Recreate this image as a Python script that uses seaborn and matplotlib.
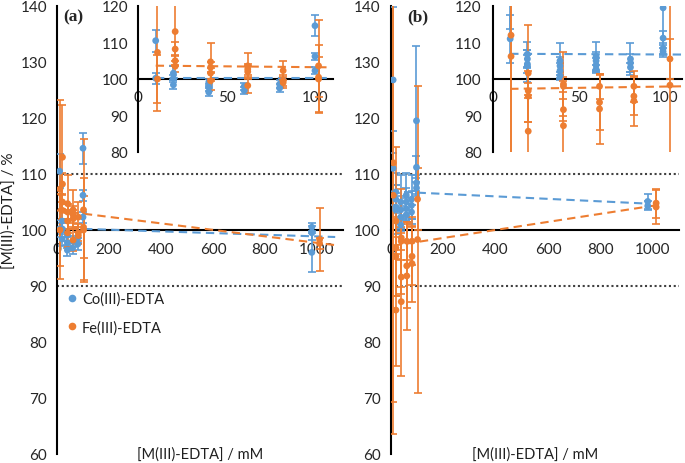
import numpy as np
import pandas as pd
import matplotlib
matplotlib.use("Agg")
import matplotlib.pyplot as plt
from matplotlib.lines import Line2D
import seaborn as sns

sns.set_theme(style="white")
plt.rcParams['font.family'] = ['Lato', 'DejaVu Sans']

BLUE = "#5B9BD5"
ORANGE = "#ED7D31"
series_names = ["Co(III)-EDTA", "Fe(III)-EDTA"]
colors = [BLUE, ORANGE]

# ---------------- Panel (a) data ----------------
a_co_x = [10, 10, 20, 20, 20, 40, 40, 40, 60, 60, 80, 80, 100, 100, 100, 980, 980, 980]
a_co_y = [110.5, 100.2, 101.6, 100.2, 98.4, 99.1, 97.7, 96.4, 98.0, 96.8, 98.6, 97.5,
          114.6, 106.2, 102.3, 100.5, 99.5, 96.0]
a_co_err = [3.0, 1.5, 2.0, 1.0, 1.2, 1.0, 1.0, 1.0, 1.0, 1.0, 1.0, 1.0,
            2.8, 1.0, 1.0, 0.7, 1.2, 3.5]

a_fe_x = [11, 11, 21, 21, 21, 21, 41, 41, 41, 41, 62, 62, 62, 62, 82, 82, 82,
          102, 102, 102, 1010, 1010]
a_fe_y = [107.3, 100.0, 113.0, 108.2, 105.0, 103.5, 104.7, 103.2, 101.6, 99.5,
          103.6, 102.7, 102.0, 98.2, 102.3, 99.5, 99.0, 103.6, 100.5, 100.0, 98.3, 97.6]
a_fe_err = [16.0, 6.5, 9.3, 2.0, 1.5, 1.5, 5.2, 1.5, 1.5, 2.5, 3.5, 1.5, 1.5, 2.0,
            2.7, 1.5, 1.5, 12.6, 5.5, 9.3, 5.7, 1.0]

# trend lines (a)
a_co_trend_x = [0, 1070]
a_co_trend_y = [100.35, 98.75]
a_fe_trend_x = [0, 1070]
a_fe_trend_y = [103.5, 97.3]
a_co_inset_trend_x = [10, 108]
a_co_inset_trend_y = [100.2, 100.2]
a_fe_inset_trend_x = [10, 108]
a_fe_inset_trend_y = [103.65, 103.2]

# ---------------- Panel (b) data ----------------
b_co_x = [10, 10, 20, 20, 20, 20, 39, 39, 39, 39, 60, 60, 60, 60, 80, 80, 80,
          99, 99, 99, 99, 980, 980]
b_co_y = [126.8, 111.0, 106.8, 105.5, 104.1, 103.6, 105.0, 103.6, 102.3, 100.9,
          106.2, 105.0, 103.8, 102.7, 105.5, 104.4, 103.2, 119.5, 111.2, 108.4, 107.5,
          105.1, 104.3]
b_co_err = [13.0, 6.6, 3.4, 2.5, 2.5, 4.4, 4.9, 2.5, 2.0, 1.1, 4.0, 2.5, 2.0, 1.1,
            4.4, 2.5, 1.2, 13.4, 2.0, 1.5, 1.0, 1.3, 0.8]

b_fe_x = [10.5, 10.5, 20.5, 20.5, 20.5, 20.5, 41, 41, 41, 41, 62, 62, 62, 82, 82, 82,
          103, 103, 1012, 1012]
b_fe_y = [112.0, 106.2, 101.6, 96.8, 95.3, 85.7, 98.6, 98.0, 91.6, 87.2, 98.0, 93.6,
          91.8, 98.0, 95.3, 94.0, 105.5, 98.3, 104.8, 104.1]
b_fe_err = [42.7, 42.7, 13.3, 2.0, 7.0, 10.0, 8.7, 1.5, 3.0, 13.3, 3.4, 7.5, 9.6,
            4.3, 5.2, 6.8, 5.5, 27.4, 2.6, 3.0]

b_co_trend_x = [0, 985]
b_co_trend_y = [106.9, 104.7]
b_fe_trend_x = [10, 1010]
b_fe_trend_y = [97.2, 104.4]
b_co_inset_trend_x = [10, 110]
b_co_inset_trend_y = [106.9, 106.7]
b_fe_inset_trend_x = [10, 110]
b_fe_inset_trend_y = [97.3, 98.0]

main_xticks = [0, 200, 400, 600, 800, 1000]
main_yticks = [60, 70, 80, 90, 100, 110, 120, 130, 140]
inset_xticks = [0, 50, 100]
inset_yticks = [80, 90, 100, 110, 120]


def make_df(cx, cy, ce, fx, fy, fe):
    d1 = pd.DataFrame({"x": cx, "y": cy, "err": ce, "series": series_names[0]})
    d2 = pd.DataFrame({"x": fx, "y": fy, "err": fe, "series": series_names[1]})
    return pd.concat([d1, d2], ignore_index=True)


df_a = make_df(a_co_x, a_co_y, a_co_err, a_fe_x, a_fe_y, a_fe_err)
df_b = make_df(b_co_x, b_co_y, b_co_err, b_fe_x, b_fe_y, b_fe_err)

FS = 10
TXT = "#1f1f1f"


def style_axes(ax, xlim, ylim, xticks, yticks, xpad, ypad):
    ax.set_xlim(*xlim)
    ax.set_ylim(*ylim)
    ax.set_xticks(xticks)
    ax.set_yticks(yticks)
    ax.set_xticklabels([str(t) for t in xticks], fontsize=FS, color=TXT)
    ax.set_yticklabels([str(t) for t in yticks], fontsize=FS, color=TXT)
    ax.tick_params(axis="x", length=0, pad=xpad)
    ax.tick_params(axis="y", length=0, pad=ypad)
    for s in ["top", "right"]:
        ax.spines[s].set_visible(False)
    ax.spines["bottom"].set_position(("data", 100))
    ax.spines["left"].set_position(("data", 0))
    for s in ["bottom", "left"]:
        ax.spines[s].set_color("black")
        ax.spines[s].set_linewidth(1.5)
        ax.spines[s].set_zorder(2)
    ax.set_xlabel("")
    ax.set_ylabel("")
    ax.grid(False)
    ax.set_facecolor("none")


def draw_data(ax, df, trends):
    for (tx, ty), color in zip(trends, colors):
        ax.plot(tx, ty, color=color, lw=1.5, ls=(0, (4, 2.5)), zorder=2.5)
    for name, color in zip(series_names, colors):
        d = df[df.series == name]
        ax.errorbar(d.x, d.y, yerr=d.err, fmt="none", ecolor=color, elinewidth=1.2,
                    capsize=3, capthick=1.2, zorder=3)
    sns.scatterplot(data=df, x="x", y="y", hue="series", palette=colors,
                    hue_order=series_names, s=24, linewidth=0, ax=ax, legend=False,
                    zorder=4)


fig = plt.figure(figsize=(6.85, 4.64), dpi=100)
W, H = 685.0, 464.0

# main axes positions (pixels)
ax_a = fig.add_axes([57 / W, 1 - 455 / H, 286 / W, 448 / H])
ax_b = fig.add_axes([390.5 / W, 1 - 455 / H, 288.75 / W, 448 / H])
in_a = fig.add_axes([138 / W, 1 - 153 / H, 194.7 / W, 146 / H])
in_b = fig.add_axes([493 / W, 1 - 153 / H, 189 / W, 146 / H])

for ax in (ax_a, ax_b):
    ax.axhline(110, color="#404040", lw=1.5, ls=(0, (1, 1.3)), zorder=1)
    ax.axhline(90, color="#404040", lw=1.5, ls=(0, (1, 1.3)), zorder=1)

draw_data(ax_a, df_a, [(a_co_trend_x, a_co_trend_y), (a_fe_trend_x, a_fe_trend_y)])
draw_data(ax_b, df_b, [(b_co_trend_x, b_co_trend_y), (b_fe_trend_x, b_fe_trend_y)])
draw_data(in_a, df_a, [(a_co_inset_trend_x, a_co_inset_trend_y),
                       (a_fe_inset_trend_x, a_fe_inset_trend_y)])
draw_data(in_b, df_b, [(b_co_inset_trend_x, b_co_inset_trend_y),
                       (b_fe_inset_trend_x, b_fe_inset_trend_y)])

style_axes(ax_a, (0, 1100), (60, 140), main_xticks, main_yticks, 9, 7)
style_axes(ax_b, (0, 1100), (60, 140), main_xticks, main_yticks, 9, 7)
style_axes(in_a, (0, 110), (80, 120), inset_xticks, inset_yticks, 8, 7)
style_axes(in_b, (0, 110), (80, 120), inset_xticks, inset_yticks, 8, 8)

# panel labels
ax_a.text(0.022, 0.995, "(a)", transform=ax_a.transAxes, ha="left", va="top",
          fontsize=12.5, fontweight="bold", family="Liberation Serif")
ax_b.text(0.057, 0.995, "(b)", transform=ax_b.transAxes, ha="left", va="top",
          fontsize=12.5, fontweight="bold", family="Liberation Serif")

# axis labels
for ax in (ax_a, ax_b):
    ax.text(0.5, 0.0, "[M(III)-EDTA] / mM", transform=ax.transAxes, ha="center",
            va="center", fontsize=10.5, color=TXT)
ax_a.text(-0.171, 0.545, "[M(III)-EDTA] / %", transform=ax_a.transAxes, ha="center",
          va="center", rotation=90, fontsize=11, color=TXT)

# legend
handles = [Line2D([0], [0], marker="o", color="none", markerfacecolor=c,
                  markeredgecolor="none", markersize=5.5) for c in colors]
ax_a.legend(handles, series_names, loc="upper left", bbox_to_anchor=(0.0, 0.375),
            frameon=False, fontsize=10.5, handletextpad=0.1, labelspacing=0.95,
            borderaxespad=0.0, handlelength=1.2, labelcolor=TXT)

fig.savefig("out.png", dpi=100)
